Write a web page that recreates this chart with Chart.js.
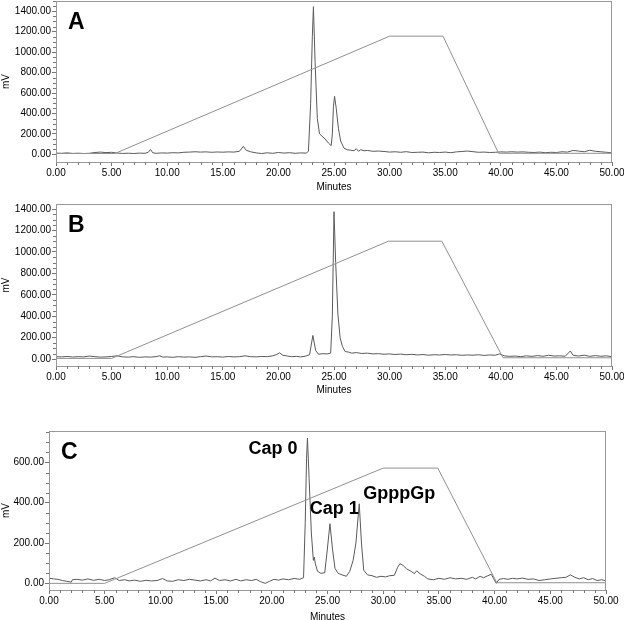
<!DOCTYPE html>
<html lang="en">
<head>
<meta charset="UTF-8">
<title>HPLC traces A, B, C</title>
<script src="https://cdn.jsdelivr.net/npm/chart.js@4.4.0/dist/chart.umd.min.js"></script>
<style>
  html, body { margin: 0; padding: 0; background: #fff; overflow: hidden; }
  .panel { position: absolute; left: 0; }
</style>
</head>
<body>
<div class="panel" style="top:0"><canvas id="chartA" width="624" height="200"></canvas></div>
<div class="panel" style="top:200px"><canvas id="chartB" width="624" height="200"></canvas></div>
<div class="panel" style="top:400px"><canvas id="chartC" width="624" height="223"></canvas></div>
<script>
// tick labels
var xTicks = [0, 5, 10, 15, 20, 25, 30, 35, 40, 45, 50];
var yTicksAB = [0, 200, 400, 600, 800, 1000, 1200, 1400];
var yTicksC = [0, 200, 400, 600];

// trace A (minutes / mV)
var timeA = [0, 0.5, 1, 1.5, 2, 2.5, 3, 3.5, 4, 4.5, 5, 5.5, 6, 6.5, 7, 7.5, 8, 8.3, 8.5, 8.7, 9, 9.5, 10, 10.5, 11, 11.5, 12, 12.5, 13, 13.5, 14, 14.5, 15, 15.5, 16, 16.5, 16.85, 17.1, 17.5, 18, 18.5, 19, 19.5, 20, 20.5, 21, 21.5, 22, 22.5, 22.7, 22.9, 23.05, 23.15, 23.3, 23.5, 23.7, 23.9, 24.2, 24.5, 24.75, 24.85, 24.95, 25.05, 25.2, 25.4, 25.6, 25.9, 26.2, 26.5, 26.8, 27, 27.2, 27.4, 27.7, 28, 28.5, 29, 29.5, 30, 30.5, 31, 31.5, 32, 32.5, 33, 33.5, 34, 34.5, 35, 35.5, 36, 36.5, 37, 37.5, 38, 38.5, 39, 39.5, 40, 40.5, 41, 41.5, 42, 42.5, 43, 43.5, 44, 44.5, 45, 45.5, 46, 46.5, 47, 47.5, 48, 48.5, 49, 49.5, 50];
var mvA = [12, 10, 14, 9, 11, 8, 10, 18, 22, 17, 20, 12, 9, 11, 8, 12, 10, 20, 48, 15, 10, 14, 12, 16, 14, 20, 22, 25, 22, 24, 20, 23, 21, 24, 22, 30, 78, 40, 25, 14, 8, 15, 10, 18, 12, 16, 10, 14, 12, 30, 500, 1150, 1445, 900, 350, 200, 180, 150, 110, 85, 200, 470, 568, 450, 250, 130, 60, 45, 40, 35, 55, 30, 45, 35, 38, 30, 32, 28, 22, 25, 20, 26, 18, 20, 22, 15, 20, 18, 22, 16, 24, 28, 32, 26, 20, 22, 18, 20, 24, 22, 25, 22, 24, 20, 18, 22, 16, 20, 18, 25, 22, 38, 32, 25, 40, 30, 25, 20, 15];
var gradTimeA = [0, 5.3, 30, 34.8, 39.8, 50];
var gradA = [8, 8, 1156, 1156, 10, 10];

// trace B
var timeB = [0, 0.5, 1, 1.5, 2, 2.5, 3, 3.5, 4, 4.5, 5, 5.5, 6, 6.5, 7, 7.5, 8, 8.5, 9, 9.3, 9.6, 10, 10.5, 11, 11.5, 12, 12.5, 13, 13.5, 14, 14.5, 15, 15.5, 16, 16.5, 17, 17.5, 18, 18.5, 19, 19.5, 19.8, 20.1, 20.4, 20.8, 21.2, 21.6, 22, 22.4, 22.8, 23.1, 23.35, 23.6, 24, 24.4, 24.7, 24.85, 25, 25.15, 25.35, 25.55, 25.75, 26, 26.3, 26.6, 27, 27.5, 28, 28.5, 29, 29.5, 30, 30.5, 31, 31.5, 32, 32.5, 33, 33.5, 34, 34.5, 35, 35.5, 36, 36.5, 37, 37.5, 38, 38.5, 39, 39.5, 39.9, 40.3, 40.8, 41.3, 41.8, 42.3, 42.8, 43.3, 43.8, 44.3, 44.8, 45.3, 45.8, 46.25, 46.5, 47, 47.5, 48, 48.5, 49, 49.5, 50];
var mvB = [22, 20, 24, 19, 22, 20, 28, 22, 18, 20, 24, 30, 20, 18, 22, 16, 20, 18, 22, 30, 18, 20, 16, 22, 18, 20, 16, 22, 28, 20, 22, 18, 24, 20, 22, 30, 22, 20, 24, 22, 30, 40, 58, 35, 28, 22, 25, 20, 26, 40, 220, 80, 45, 50, 48, 55, 400, 1375, 900, 420, 200, 120, 70, 65, 55, 60, 52, 55, 48, 50, 45, 48, 42, 46, 40, 44, 38, 42, 36, 40, 38, 42, 38, 40, 35, 38, 36, 40, 34, 38, 36, 48, 30, 25, 28, 22, 30, 25, 32, 26, 35, 28, 30, 26, 75, 35, 28, 36, 25, 32, 26, 30, 22];
var gradTimeB = [0, 5.0, 29.9, 34.7, 40.2, 50];
var gradB = [6, 6, 1100, 1100, 12, 12];

// trace C
var timeC = [0, 0.4, 0.8, 1.2, 1.6, 2, 2.1, 2.5, 3, 3.5, 4, 4.5, 5, 5.4, 5.9, 6.3, 6.8, 7.2, 7.7, 8.2, 8.7, 9.2, 9.7, 10.2, 10.6, 11.1, 11.6, 12.1, 12.6, 13.1, 13.6, 14.1, 14.5, 14.9, 15.3, 15.8, 16.3, 16.8, 17.2, 17.7, 18.2, 18.6, 19, 19.4, 19.8, 20.2, 20.6, 21, 21.5, 22, 22.5, 22.85, 23, 23.12, 23.2, 23.35, 23.55, 23.73, 23.82, 23.9, 24.1, 24.4, 24.75, 24.95, 25.22, 25.45, 25.67, 25.95, 26.3, 26.7, 27, 27.3, 27.55, 27.85, 28.05, 28.25, 28.6, 29, 29.4, 29.8, 30.2, 30.6, 31, 31.3, 31.5, 31.8, 32.1, 32.5, 32.8, 33, 33.3, 33.7, 34, 34.5, 35, 35.5, 36, 36.5, 37, 37.5, 38, 38.3, 38.7, 39, 39.4, 39.7, 39.9, 40.15, 40.4, 40.8, 41.2, 41.6, 42, 42.5, 43, 43.5, 44, 44.5, 45, 45.5, 46, 46.4, 46.8, 47.2, 47.6, 48, 48.4, 48.8, 49.2, 49.6, 50];
var mvC = [26, 22, 20, 14, 10, 6, 18, 20, 16, 22, 15, 20, 14, 18, 28, 14, 18, 12, 16, 10, 15, 12, 14, 24, 12, 10, 18, 14, 20, 16, 12, 18, 12, 26, 14, 18, 12, 20, 12, 18, 14, 20, 8, 0, 10, 20, 16, 22, 18, 24, 20, 28, 300, 620, 720, 520, 250, 114, 130, 100, 60, 50, 52, 150, 296, 170, 75, 50, 42, 35, 60, 114, 200, 395, 200, 65, 42, 38, 30, 35, 32, 38, 40, 80, 98, 88, 72, 60, 48, 62, 48, 35, 22, 18, 25, 20, 28, 22, 25, 20, 30, 22, 35, 28, 38, 45, 25, 0, 20, 24, 20, 25, 22, 26, 20, 22, 14, 18, 22, 25, 28, 30, 42, 30, 22, 28, 18, 24, 14, 18, 12];
var gradTimeC = [0, 5.0, 30.0, 34.9, 40.2, 50];
var gradC = [0, 0, 572, 572, 3, 3];

// peak labels in panel C
var peakNames = ['Cap 0', 'Cap 1', 'GpppGp'];
var peakTime = [22.3, 23.4, 28.2];
var peakMv = [642, 343, 421];
var peakAlign = ['right', 'left', 'left'];

var tickFont = { family: 'Liberation Sans, Arial, sans-serif', size: 10 };

function pts(xs, ys) {
    return xs.map(function (x, i) { return { x: x, y: ys[i] }; });
}

// box round the plot + minor ticks + letters
var panelDeco = {
    id: 'panelDeco',
    afterDraw: function (chart) {
        var ctx = chart.ctx, a = chart.chartArea;
        var xs = chart.scales.x, ys = chart.scales.y;
        ctx.save();
        ctx.strokeStyle = '#999';
        ctx.lineWidth = 1;
        ctx.strokeRect(a.left + 0.5, a.top + 0.5, a.right - a.left - 1, a.bottom - a.top);

        ctx.strokeStyle = '#777';
        ctx.beginPath();
        for (var m = 0; m <= 50; m++) {
            if (m % 5 === 0) continue;
            var px = Math.round(xs.getPixelForValue(m)) + 0.5;
            ctx.moveTo(px, a.bottom);
            ctx.lineTo(px, a.bottom + 3);
        }
        for (var v = 50; v <= ys.max; v += 50) {
            if (v % 200 === 0) continue;
            var py = Math.round(ys.getPixelForValue(v)) + 0.5;
            ctx.moveTo(a.left, py);
            ctx.lineTo(a.left - 3, py);
        }
        ctx.stroke();

        var o = chart.options.plugins.panelDeco;
        ctx.fillStyle = '#000';
        ctx.textBaseline = 'alphabetic';
        ctx.textAlign = 'left';
        ctx.font = 'bold 23px Liberation Sans, Arial, sans-serif';
        ctx.fillText(o.letter, a.left + 12, a.top + 28);

        ctx.font = 'bold 18px Liberation Sans, Arial, sans-serif';
        (o.names || []).forEach(function (n, i) {
            ctx.textAlign = o.align[i];
            ctx.fillText(n, xs.getPixelForValue(o.tx[i]), ys.getPixelForValue(o.ty[i]));
        });
        ctx.restore();
    }
};

function makePanel(id, cfg) {
    var ctx = document.getElementById(id).getContext('2d');
    return new Chart(ctx, {
        type: 'line',
        data: {
            datasets: [
                {
                    data: pts(cfg.gt, cfg.gv),
                    borderColor: '#909090',
                    borderWidth: 1,
                    pointRadius: 0,
                    tension: 0
                },
                {
                    data: pts(cfg.t, cfg.v),
                    borderColor: '#5a5a5a',
                    borderWidth: 1,
                    pointRadius: 0,
                    tension: 0
                }
            ]
        },
        options: {
            responsive: false,
            animation: false,
            devicePixelRatio: 1,
            layout: { padding: { top: cfg.top, right: cfg.right, left: 0, bottom: 0 } },
            plugins: {
                legend: { display: false },
                tooltip: { enabled: false },
                panelDeco: { letter: cfg.letter, names: cfg.names, tx: cfg.tx, ty: cfg.ty, align: cfg.align }
            },
            scales: {
                x: {
                    type: 'linear',
                    min: 0,
                    max: 50,
                    afterBuildTicks: function (s) { s.ticks = xTicks.map(function (v) { return { value: v }; }); },
                    afterFit: function (s) { s.height = cfg.xh; s.paddingLeft = 0; s.paddingRight = 0; },
                    ticks: { callback: function (v) { return v.toFixed(2); }, font: tickFont, color: '#000', padding: 1, maxRotation: 0, autoSkip: false },
                    grid: { drawOnChartArea: false, tickLength: 4, color: '#777' },
                    border: { color: '#777' },
                    title: { display: true, text: 'Minutes', font: tickFont, color: '#000', padding: { top: 0, bottom: cfg.titlePad } }
                },
                y: {
                    type: 'linear',
                    min: cfg.ymin,
                    max: cfg.ymax,
                    afterBuildTicks: function (s) { s.ticks = cfg.yt.map(function (v) { return { value: v }; }); },
                    afterFit: function (s) { s.width = cfg.yw; s.paddingTop = 0; s.paddingBottom = 0; },
                    ticks: { callback: function (v) { return v.toFixed(2); }, font: tickFont, color: '#000', padding: 1, autoSkip: false },
                    grid: { drawOnChartArea: false, tickLength: 4, color: '#777' },
                    border: { color: '#777' },
                    title: { display: true, text: 'mV', font: tickFont, color: '#000', padding: 0 }
                }
            }
        },
        plugins: [panelDeco]
    });
}

makePanel('chartA', { t: timeA, v: mvA, gt: gradTimeA, gv: gradA, ymin: -75, ymax: 1500, yt: yTicksAB,
    letter: 'A', top: 1, right: 12, yw: 56, xh: 38, titlePad: 7 });
makePanel('chartB', { t: timeB, v: mvB, gt: gradTimeB, gv: gradB, ymin: -65, ymax: 1447, yt: yTicksAB,
    letter: 'B', top: 4, right: 12, yw: 56, xh: 34, titlePad: 4 });
makePanel('chartC', { t: timeC, v: mvC, gt: gradTimeC, gv: gradC, ymin: -33, ymax: 756, yt: yTicksC,
    letter: 'C', top: 31, right: 18, yw: 49, xh: 33, titlePad: 0,
    names: peakNames, tx: peakTime, ty: peakMv, align: peakAlign });
</script>
</body>
</html>
